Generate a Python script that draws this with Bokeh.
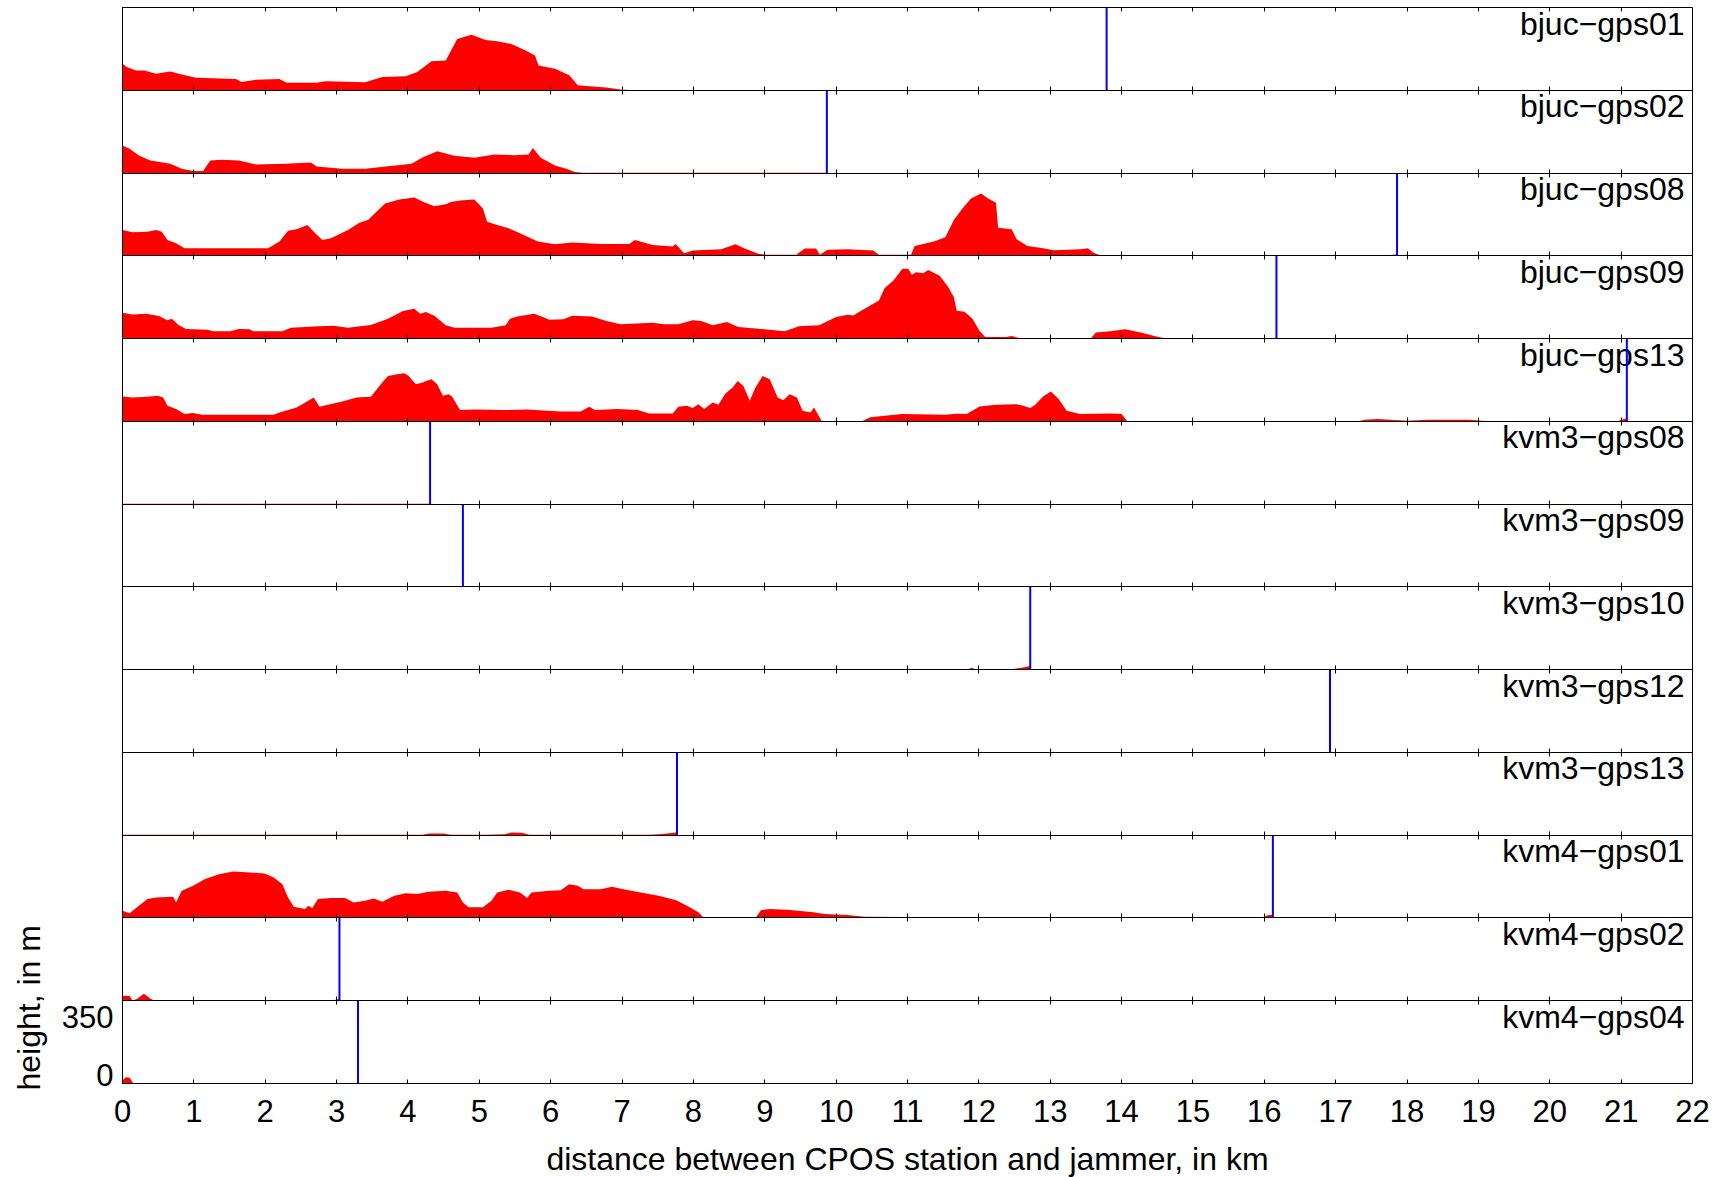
import numpy as np
from bokeh.plotting import figure
from bokeh.models import (ColumnDataSource, Range1d, LinearAxis, FixedTicker,
                          Title, CustomJSTickFormatter)
from bokeh.core.properties import value
from bokeh.embed import file_html
from bokeh.resources import INLINE

# ---------------- data ----------------
stations = ["bjuc\u2212gps01", "bjuc\u2212gps02", "bjuc\u2212gps08", "bjuc\u2212gps09",
            "bjuc\u2212gps13", "kvm3\u2212gps08", "kvm3\u2212gps09", "kvm3\u2212gps10",
            "kvm3\u2212gps12", "kvm3\u2212gps13", "kvm4\u2212gps01", "kvm4\u2212gps02",
            "kvm4\u2212gps04"]

# distance between CPOS station and jammer (km)
jammer_km = [13.79, 9.87, 17.86, 16.17, 21.08, 4.31, 4.77, 12.72, 16.92, 7.77,
             16.12, 3.04, 3.30]

# terrain profiles: (distance km, height m)
bjuc_gps01 = [(0, 110), (0.06, 90), (0.19, 70), (0.31, 70), (0.47, 50), (0.67, 64),
              (0.83, 46), (1.03, 26), (1.59, 18), (1.67, 0), (1.87, 14), (2.2, 18),
              (2.3, -4), (2.72, -4), (2.84, 4), (3.4, -2), (3.64, 30), (3.97, 34),
              (4.13, 60), (4.33, 126), (4.53, 130), (4.69, 260), (4.89, 286),
              (5.09, 254), (5.25, 246), (5.45, 230), (5.65, 190), (5.78, 160),
              (5.83, 100), (6.06, 80), (6.26, 40), (6.38, -20), (6.54, -26),
              (6.78, -34), (6.98, -46), (7.1, -48), (10.5, -48)]

bjuc_gps02 = [(0, 116), (0.1, 96), (0.23, 56), (0.39, 26), (0.67, 6), (0.83, -24),
              (0.99, -38), (1.13, -38), (1.23, 26), (1.39, 30), (1.63, 26), (1.87, 2),
              (2.28, 6), (2.64, 14), (2.72, -10), (3.08, -24), (3.4, -24), (4.05, 6),
              (4.21, 46), (4.41, 82), (4.65, 54), (4.93, 42), (5.21, 62), (5.49, 58),
              (5.69, 62), (5.75, 102), (5.86, 42), (6.06, -4), (6.22, -24), (6.34, -44),
              (6.45, -48), (9.87, -48)]

bjuc_gps08 = [(0, 106), (0.14, 92), (0.35, 96), (0.47, 106), (0.55, 96), (0.63, 46),
              (0.75, 26), (0.87, -4), (2.04, -4), (2.2, 36), (2.32, 102), (2.44, 110),
              (2.59, 136), (2.68, 96), (2.8, 46), (2.92, 56), (3.16, 106), (3.32, 150),
              (3.44, 166), (3.56, 216), (3.68, 266), (3.88, 290), (4.09, 302),
              (4.21, 276), (4.37, 250), (4.53, 262), (4.61, 276), (4.77, 286),
              (4.93, 290), (5.05, 236), (5.11, 156), (5.25, 136), (5.41, 116),
              (5.57, 86), (5.69, 62), (5.82, 36), (6.06, 20), (6.3, 30), (6.7, 22),
              (7.1, 22), (7.18, 46), (7.43, 16), (7.71, 6), (7.75, 22), (7.87, -34),
              (7.99, -18), (8.39, -10), (8.59, 20), (8.71, -4), (8.91, -38), (9.03, -44),
              (9.44, -44), (9.56, -6), (9.72, -6), (9.77, -44), (9.88, -14),
              (10.16, -10), (10.52, -18), (10.6, -44), (11.05, -44), (11.1, 10),
              (11.37, 36), (11.53, 62), (11.65, 166), (11.77, 236), (11.89, 296),
              (12.03, 326), (12.13, 296), (12.24, 270), (12.27, 120), (12.46, 110),
              (12.53, 50), (12.68, 10), (12.9, -4), (13.05, -16), (13.42, -10),
              (13.53, -4), (13.6, -30), (13.71, -48), (17.7, -48), (17.86, -40)]

bjuc_gps09 = [(0, 106), (0.14, 96), (0.33, 100), (0.51, 86), (0.63, 60), (0.69, 70),
              (0.79, 30), (0.89, 8), (1.19, 4), (1.27, -6), (1.51, -6), (1.63, 8),
              (1.78, 6), (1.83, -6), (2.24, -6), (2.36, 16), (2.76, 24), (2.96, 28),
              (3.16, 16), (3.48, 32), (3.72, 70), (3.93, 116), (4.09, 130), (4.17, 100),
              (4.25, 110), (4.37, 88), (4.53, 30), (4.65, 16), (5.17, 16), (5.37, 30),
              (5.43, 70), (5.53, 84), (5.77, 100), (5.89, 80), (5.98, 64), (6.18, 66),
              (6.3, 88), (6.58, 84), (6.78, 56), (6.98, 36), (7.43, 46), (7.59, 36),
              (7.79, 36), (7.99, 60), (8.11, 56), (8.27, 30), (8.47, 50), (8.63, 20),
              (8.95, 8), (9.28, -6), (9.48, 24), (9.76, 30), (10.0, 80), (10.16, 94),
              (10.24, 90), (10.32, 110), (10.6, 180), (10.68, 256), (10.8, 300),
              (10.93, 372), (11.01, 372), (11.06, 336), (11.12, 350), (11.22, 345),
              (11.29, 364), (11.45, 330), (11.57, 262), (11.65, 200), (11.69, 118),
              (11.8, 112), (11.91, 70), (12.01, -4), (12.09, -40), (12.38, -40),
              (12.46, -34), (12.57, -48), (13.57, -48), (13.64, -14), (13.87, -4),
              (14.05, 6), (14.27, -14), (14.46, -34), (14.6, -48), (16.17, -48)]

bjuc_gps13 = [(0, 100), (0.14, 94), (0.35, 98), (0.49, 104), (0.57, 94), (0.63, 44),
              (0.75, 24), (0.87, -6), (0.99, 0), (1.11, -10), (2.12, -10), (2.2, 4),
              (2.44, 34), (2.56, 64), (2.68, 94), (2.76, 38), (2.88, 50), (3.08, 70),
              (3.28, 94), (3.48, 98), (3.64, 184), (3.72, 224), (3.85, 234), (3.95, 240),
              (4.01, 224), (4.11, 174), (4.21, 184), (4.25, 194), (4.33, 204),
              (4.41, 174), (4.49, 104), (4.57, 114), (4.62, 98), (4.73, 18), (4.93, 22),
              (5.33, 18), (5.66, 22), (6.14, 10), (6.42, 10), (6.54, 38), (6.62, 18),
              (6.94, 24), (7.22, 18), (7.38, -2), (7.71, -2), (7.79, 38), (7.91, 44),
              (7.99, 30), (8.07, 54), (8.15, 24), (8.27, 64), (8.35, 50), (8.45, 118),
              (8.55, 154), (8.62, 194), (8.7, 164), (8.79, 74), (8.87, 154), (8.97, 224),
              (9.07, 204), (9.18, 94), (9.26, 78), (9.35, 114), (9.45, 94), (9.53, 14),
              (9.64, 4), (9.69, 34), (9.8, -50), (10.36, -50), (10.48, -26),
              (10.92, -6), (11.53, -10), (11.69, -4), (11.83, -6), (12.01, 40),
              (12.24, 50), (12.53, 54), (12.61, 46), (12.72, 30), (12.79, 50),
              (12.9, 100), (13.01, 130), (13.12, 84), (13.23, 14), (13.42, -6),
              (13.86, -2), (14.0, -6), (14.08, -50), (17.33, -50), (17.4, -40),
              (17.59, -36), (18.0, -46), (18.29, -40), (18.88, -40), (19.14, -50),
              (20.95, -50), (21.04, -36), (21.08, -34)]

kvm3_gps08 = [(0, -48), (4.31, -48)]
kvm3_gps09 = [(0, -48), (4.77, -48)]
kvm3_gps10 = [(0, -48), (11.85, -48), (11.9, -38), (11.95, -48), (12.45, -48),
              (12.6, -38), (12.7, -30), (12.72, -30)]
kvm3_gps12 = [(0, -48), (16.92, -48)]
kvm3_gps13 = [(0, -48), (4.2, -48), (4.3, -40), (4.5, -40), (4.6, -48), (5.1, -48),
              (5.35, -44), (5.45, -34), (5.6, -36), (5.7, -48), (7.4, -48),
              (7.6, -42), (7.75, -34), (7.77, -34)]

kvm4_gps01 = [(0, -6), (0.1, -22), (0.19, 10), (0.35, 64), (0.47, 74), (0.71, 78),
              (0.75, 44), (0.83, 114), (0.99, 144), (1.15, 184), (1.35, 214),
              (1.55, 230), (1.79, 224), (1.99, 218), (2.12, 194), (2.24, 154),
              (2.32, 74), (2.4, 18), (2.56, 4), (2.6, 24), (2.66, 10), (2.74, 64),
              (2.92, 70), (3.12, 70), (3.24, 44), (3.4, 54), (3.52, 68), (3.64, 48),
              (3.81, 84), (3.97, 100), (4.13, 94), (4.29, 108), (4.53, 114),
              (4.69, 104), (4.77, 44), (4.85, 14), (5.05, 14), (5.17, 54), (5.25, 104),
              (5.41, 120), (5.57, 104), (5.67, 70), (5.73, 104), (5.98, 114),
              (6.14, 118), (6.26, 154), (6.38, 144), (6.46, 124), (6.7, 124),
              (6.86, 138), (7.02, 124), (7.26, 104), (7.51, 84), (7.75, 58),
              (7.91, 24), (8.07, -16), (8.15, -50), (8.87, -50), (8.95, -2),
              (9.07, 4), (9.36, -2), (9.68, -16), (9.84, -26), (10.16, -32),
              (10.4, -42), (10.97, -44), (11.2, -48), (15.95, -48), (16.05, -34),
              (16.12, -30)]

kvm4_gps02 = [(0, -20), (0.1, -22), (0.14, -48), (0.2, -40), (0.3, -8), (0.4, -40),
              (0.45, -48), (2.95, -48), (3.04, -38)]
kvm4_gps04 = [(0, -30), (0.05, -12), (0.1, -16), (0.15, -48), (3.3, -48)]

profiles = [bjuc_gps01, bjuc_gps02, bjuc_gps08, bjuc_gps09, bjuc_gps13,
            kvm3_gps08, kvm3_gps09, kvm3_gps10, kvm3_gps12, kvm3_gps13,
            kvm4_gps01, kvm4_gps02, kvm4_gps04]

x_ticks = list(range(0, 23))
y_ticks_m = [0, 350]

# ---------------- layout ----------------
H_LO, H_HI = -50, 450          # height range shown in each panel (m)
SPAN = H_HI - H_LO
n = len(stations)
FONT = value("Liberation Sans")

p = figure(frame_width=1570, frame_height=1076,
           x_range=Range1d(0, 22), y_range=Range1d(0, n * SPAN),
           output_backend="svg", toolbar_location=None,
           min_border_left=121, min_border_right=36,
           min_border_top=7, min_border_bottom=60)
p.xgrid.visible = False
p.ygrid.visible = False
p.outline_line_color = "black"
p.outline_line_width = 1
p.background_fill_color = "white"
p.border_fill_color = "white"

# terrain fills
for k, prof in enumerate(profiles):
    base = (n - 1 - k) * SPAN
    d = np.array([pt[0] for pt in prof], dtype=float)
    h = np.array([pt[1] for pt in prof], dtype=float)
    src = ColumnDataSource(dict(x=d, y1=np.full_like(d, base), y2=h - H_LO + base))
    p.varea(x="x", y1="y1", y2="y2", source=src, fill_color="#ff0000")

# station names
tops = [(n - k) * SPAN for k in range(n)]
lab_src = ColumnDataSource(dict(x=[22] * n, y=tops, text=stations))
p.text(x="x", y="y", text="text", source=lab_src, text_align="right",
       text_baseline="top", x_offset=-8, y_offset=-2, text_font=FONT,
       text_font_size="32px", text_color="black")

# jammer positions
bases = [(n - 1 - k) * SPAN for k in range(n)]
jam_src = ColumnDataSource(dict(x=jammer_km, y0=bases, y1=[b + SPAN for b in bases]))
p.segment(x0="x", y0="y0", x1="x", y1="y1", source=jam_src,
          line_color="#0000ff", line_width=2)

# bottom axis
xa = p.xaxis[0]
xa.ticker = FixedTicker(ticks=x_ticks, minor_ticks=[])
xa.major_tick_in = 4
xa.major_tick_out = 0
xa.major_label_standoff = 16
xa.major_label_text_font = "Liberation Sans"
xa.major_label_text_font_size = "31px"
xa.major_label_text_color = "black"
xa.axis_label = "distance between CPOS station and jammer, in km"
xa.axis_label_text_font = "Liberation Sans"
xa.axis_label_text_font_size = "32px"
xa.axis_label_text_font_style = "normal"
xa.axis_label_text_color = "black"
xa.axis_label_standoff = 16
xa.axis_line_color = "black"

# left axis (only the bottom panel is labelled)
ya = p.yaxis[0]
ya.ticker = FixedTicker(ticks=[t - H_LO for t in y_ticks_m], minor_ticks=[])
ya.formatter = CustomJSTickFormatter(code="return String(tick + (%d));" % H_LO)
ya.major_tick_in = 0
ya.major_tick_out = 0
ya.major_label_standoff = 9
ya.major_label_text_font = "Liberation Sans"
ya.major_label_text_font_size = "31px"
ya.major_label_text_color = "black"
ya.axis_line_color = "black"

blank = CustomJSTickFormatter(code="return '';")
# panel separators with ticks
for k in range(1, n):
    ax = LinearAxis(fixed_location=k * SPAN,
                    ticker=FixedTicker(ticks=x_ticks, minor_ticks=[]),
                    formatter=blank, major_tick_in=4, major_tick_out=4,
                    axis_line_color="black", major_tick_line_color="black")
    p.add_layout(ax, "below")
top_ax = LinearAxis(fixed_location=n * SPAN,
                    ticker=FixedTicker(ticks=x_ticks, minor_ticks=[]),
                    formatter=blank, major_tick_in=4, major_tick_out=0,
                    axis_line_color="black")
p.add_layout(top_ax, "above")

# y label
p.add_layout(Title(text="height, in m", align="left", offset=-7, standoff=20,
                   vertical_align="top",
                   text_font="Liberation Sans", text_font_size="32px",
                   text_font_style="normal", text_color="black"), "left")

open("out.html", "w").write(file_html(p, INLINE))
